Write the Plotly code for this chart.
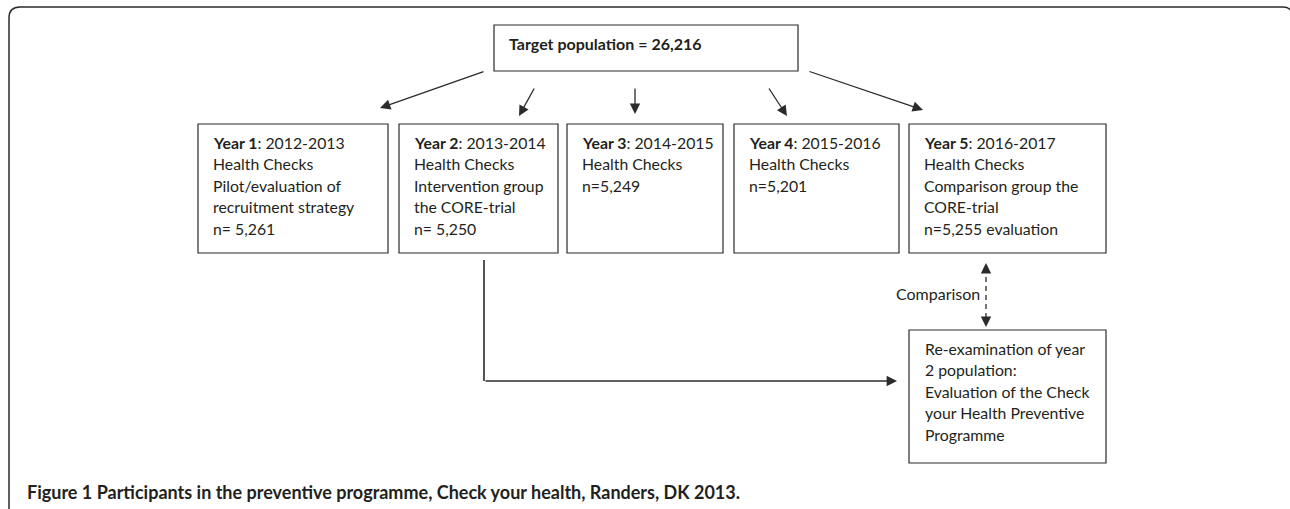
import plotly.graph_objects as go

# ---------------- data ----------------
target_label = "Target population"
target_n = 26216

year_labels = ["Year 1", "Year 2", "Year 3", "Year 4", "Year 5"]
year_periods = ["2012-2013", "2013-2014", "2014-2015", "2015-2016", "2016-2017"]
year_descriptions = [
    ["Health Checks", "Pilot/evaluation of", "recruitment strategy"],
    ["Health Checks", "Intervention group", "the CORE-trial"],
    ["Health Checks"],
    ["Health Checks"],
    ["Health Checks", "Comparison group the", "CORE-trial"],
]
year_counts = [5261, 5250, 5249, 5201, 5255]
count_prefix = ["n= ", "n= ", "n=", "n=", "n="]
count_suffix = ["", "", "", "", " evaluation"]

reexam_lines = ["Re-examination of year", "2 population:", "Evaluation of the Check",
                "your Health Preventive", "Programme"]
comparison_label = "Comparison"
caption_bold = "Figure 1"
caption_text = "Participants in the preventive programme, Check your health, Randers, DK 2013."

# ---------------- layout geometry ----------------
W, H = 1290, 509
FONT = "Lato"
TXT = "#231f20"
LINE = "#2b2b2b"
FS = 15.8
LH = 21.5

target_box = (494, 25, 798, 71)
box_left = [198, 399, 567, 734, 909]
box_right = [388, 558, 723, 899, 1106]
box_top, box_bottom = 124, 253
reexam_box = (909, 330, 1106, 463)

arrows_top = [  # (tail_x, tail_y, head_x, head_y)
    (485, 71, 380, 108),
    (535, 87, 519, 116),
    (635, 87, 635, 114),
    (768, 87, 787, 116),
    (808, 71, 923, 110),
]

fig = go.Figure()
shapes = []
annotations = []

def rect(x0, y0, x1, y1):
    shapes.append(dict(type="rect", xref="x", yref="y", x0=x0, y0=y0, x1=x1, y1=y1,
                       line=dict(color=LINE, width=1.2), fillcolor="white", layer="below"))

def text(x, y, s, size=FS, xanchor="left", color=TXT):
    annotations.append(dict(x=x, y=y, xref="x", yref="y", text=s, showarrow=False,
                            xanchor=xanchor, yanchor="middle", align="left",
                            font=dict(family=FONT, size=size, color=color)))

def arrow(tx, ty, hx, hy, size=1.6):
    annotations.append(dict(x=hx, y=hy, ax=tx, ay=ty, xref="x", yref="y", axref="x", ayref="y",
                            text="", showarrow=True, arrowhead=2, arrowsize=size,
                            arrowwidth=1.3, arrowcolor=LINE, standoff=0, startstandoff=0))

# outer frame
shapes.append(dict(type="path", xref="x", yref="y",
                   path="M 9,512 L 9,18 Q 9,7 20,7 L 1283,7 Q 1292,7 1292,16 L 1292,512",
                   line=dict(color=LINE, width=1.5)))

# target box
rect(*target_box)
text(507, 43, f"<b>{target_label} = {target_n:,}</b>", size=16)

# year boxes
for i in range(5):
    rect(box_left[i], box_top, box_right[i], box_bottom)
    lines = [f"<b>{year_labels[i]}</b>: {year_periods[i]}"] + year_descriptions[i] + \
            [f"{count_prefix[i]}{year_counts[i]:,}{count_suffix[i]}"]
    for j, s in enumerate(lines):
        text(box_left[i] + 13, 142 + j * LH, s)

for a in arrows_top:
    arrow(*a)

# re-exam path
shapes.append(dict(type="line", xref="x", yref="y", x0=484, y0=260, x1=484, y1=381,
                   line=dict(color=LINE, width=1.6)))
arrow(484, 381, 897, 381)
rect(*reexam_box)
for j, s in enumerate(reexam_lines):
    text(923, 348 + j * LH, s)

# comparison dashed arrow
shapes.append(dict(type="line", xref="x", yref="y", x0=986, y0=268, x1=986, y1=322,
                   line=dict(color=LINE, width=1.3, dash="5px,4px")))
arrow(986, 273, 986, 263)
arrow(986, 317, 986, 327)
text(982, 293, comparison_label, size=16, xanchor="right")

# caption
text(25, 492, f"<b>{caption_bold} {caption_text}</b>", size=18)

fig.update_layout(
    width=W, height=H, margin=dict(l=0, r=0, t=0, b=0),
    paper_bgcolor="white", plot_bgcolor="white",
    xaxis=dict(range=[0, W], visible=False, fixedrange=True),
    yaxis=dict(range=[H, 0], visible=False, fixedrange=True),
    shapes=shapes, annotations=annotations, showlegend=False,
)
fig.write_html("out.html", config={"displayModeBar": False},
               post_script="document.body.style.margin='0';document.body.style.overflow='hidden';")
